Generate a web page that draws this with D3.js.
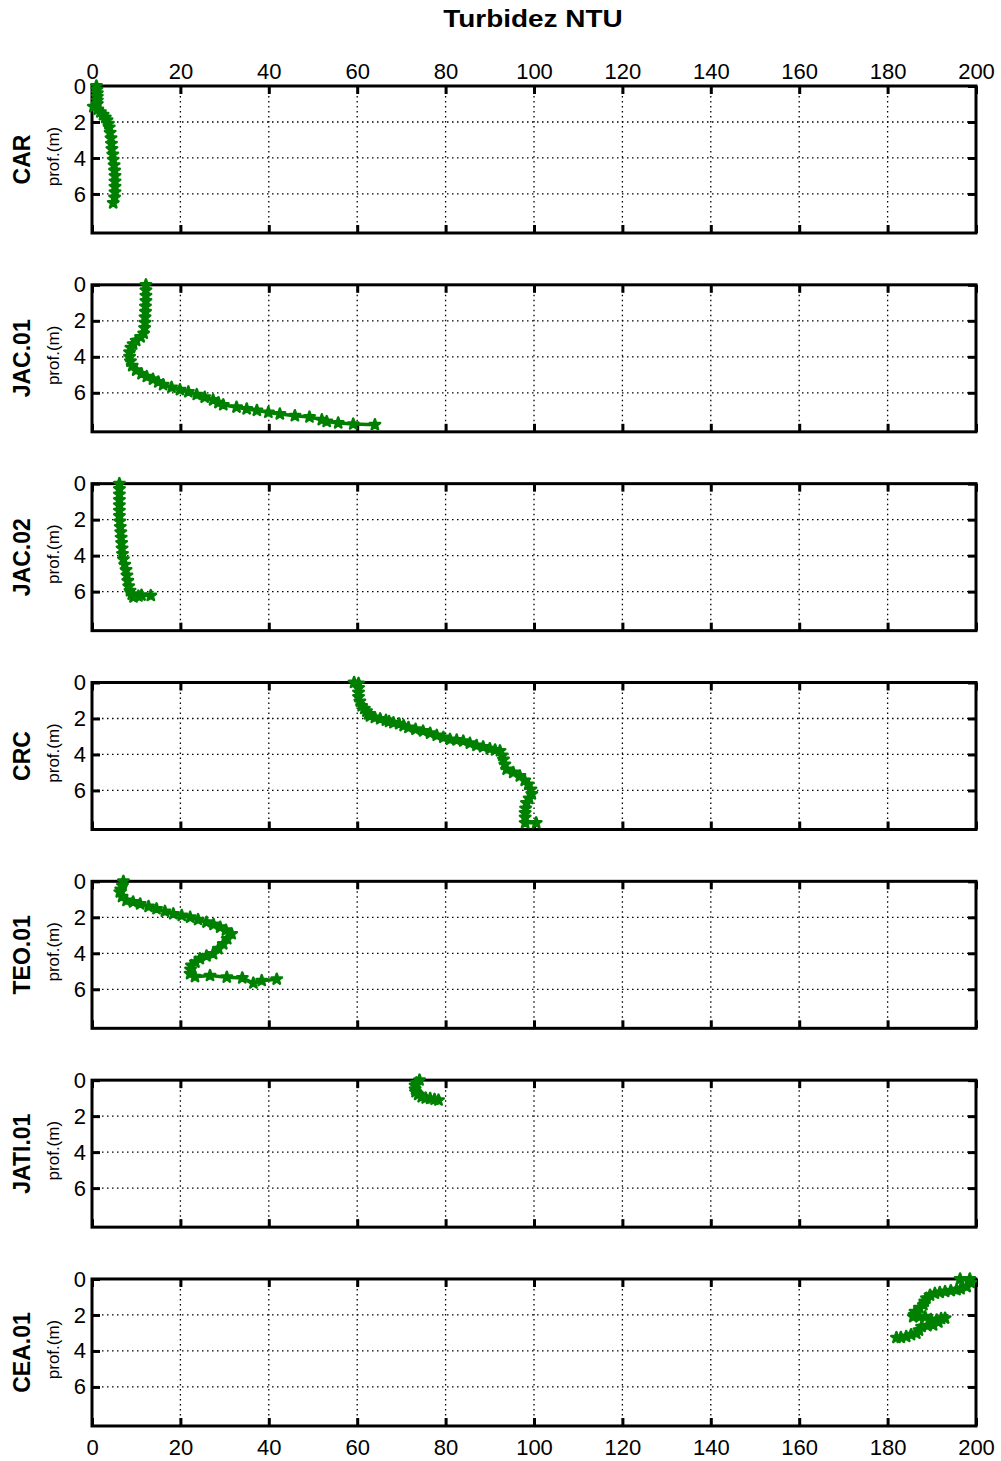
<!DOCTYPE html>
<html>
<head>
<meta charset="utf-8">
<script src="https://cdn.jsdelivr.net/npm/d3@7"></script>
<style>
body{margin:0;background:#fff;}
text{font-family:"Liberation Sans",Arial,Helvetica,sans-serif;}
</style>
</head>
<body>
<svg width="1001" height="1461"></svg>
<script>
// station names, top to bottom
var stations = ["CAR", "JAC.01", "JAC.02", "CRC", "TEO.01", "JATI.01", "CEA.01"];
var xTicks = [0, 20, 40, 60, 80, 100, 120, 140, 160, 180, 200];
var yTicks = [0, 2, 4, 6];

// [profundidade (m), turbidez NTU]
var car = [[0,1.0],[0.2,1.1],[0.4,1.2],[0.6,1.2],[0.8,1.2],[1.0,1.2],[1.15,0.3],[1.3,1.3],[1.45,1.9],
  [1.6,2.5],[1.75,3.0],[1.9,3.4],[2.1,3.7],[2.3,3.9],[2.6,4.1],[2.9,4.3],[3.2,4.4],[3.5,4.5],[3.8,4.7],
  [4.1,4.8],[4.4,5.0],[4.7,5.1],[5.0,5.2],[5.3,5.2],[5.6,5.2],[5.9,5.2],[6.2,5.1],[6.5,4.8]];
var jac01 = [[0,12.2],[0.3,12.2],[0.6,12.2],[0.9,12.2],[1.2,12.1],[1.5,12.1],[1.8,12.0],[2.1,12.0],
  [2.4,11.9],[2.7,11.7],[2.9,11.0],[3.1,10.0],[3.3,9.3],[3.5,8.8],[3.75,8.5],[4.0,8.5],[4.25,8.7],
  [4.5,9.1],[4.75,10.0],[4.95,11.2],[5.1,12.4],[5.25,13.8],[5.4,15.0],[5.55,16.1],[5.7,18.0],
  [5.83,19.9],[5.95,21.8],[6.1,23.7],[6.25,25.5],[6.4,27.4],[6.55,28.6],[6.67,29.7],[6.8,32.7],
  [6.9,35.0],[6.98,37.3],[7.09,39.9],[7.18,42.5],[7.28,45.9],[7.35,49.2],[7.5,52.0],[7.6,53.1],
  [7.68,55.7],[7.74,59.1],[7.78,64.0]];
var jac02 = [[0,6.2],[0.3,6.2],[0.6,6.2],[0.9,6.2],[1.2,6.2],[1.5,6.2],[1.8,6.2],[2.1,6.3],[2.4,6.4],
  [2.7,6.5],[3.0,6.6],[3.3,6.7],[3.6,6.8],[3.9,6.9],[4.2,7.1],[4.5,7.4],[4.8,7.7],[5.1,7.9],[5.4,8.1],
  [5.7,8.3],[5.95,8.6],[6.15,9.0],[6.3,9.4],[6.25,10.5],[6.2,11.2],[6.22,13.3]];
var crc = [[0,59.3],[0.05,60.3],[0.3,60.3],[0.55,60.3],[0.8,60.3],[1.05,60.6],[1.3,61.0],[1.45,61.6],
  [1.6,62.1],[1.75,62.5],[1.87,62.9],[1.95,64.0],[2.02,65.2],[2.1,66.5],[2.17,67.2],[2.24,68.2],
  [2.3,69.5],[2.4,70.5],[2.5,71.6],[2.6,73.2],[2.7,74.9],[2.82,76.5],[2.94,78.0],[3.05,79.5],
  [3.16,81.0],[3.2,82.5],[3.26,84.0],[3.38,85.5],[3.5,87.0],[3.58,88.5],[3.68,90.0],[3.75,91.2],
  [3.8,92.3],[4.05,92.8],[4.28,93.1],[4.55,93.4],[4.83,93.8],[5.0,95.3],[5.2,96.8],[5.45,97.9],
  [5.67,98.7],[5.95,99.3],[6.2,99.5],[6.45,98.9],[6.7,98.3],[7.0,98.1],[7.25,98.0],[7.5,98.0],
  [7.8,98.0],[7.8,100.5]];
var teo01 = [[0,7.1],[0.24,6.9],[0.45,6.5],[0.6,6.3],[0.85,6.8],[1.07,7.8],[1.15,9.3],[1.26,10.9],
  [1.4,12.8],[1.53,14.6],[1.67,16.5],[1.81,18.4],[1.9,20.3],[2.0,22.2],[2.13,24.0],[2.27,25.9],
  [2.4,27.5],[2.55,29.0],[2.72,30.3],[2.92,31.6],[3.2,30.6],[3.48,29.7],[3.75,28.6],[4.03,27.4],
  [4.15,25.9],[4.3,24.4],[4.5,23.4],[4.68,22.5],[4.9,22.3],[5.14,22.2],[5.3,23.3],[5.24,26.7],
  [5.33,30.5],[5.37,34.0],[5.66,36.5],[5.52,38.4],[5.44,41.8]];
var jati01 = [[0,74.1],[0.15,73.4],[0.3,73.1],[0.5,73.1],[0.65,73.2],[0.8,73.8],[0.93,74.6],
  [1.0,75.5],[1.02,76.5],[1.07,77.5],[1.11,78.4]];
var cea01 = [[0,196.4],[0,198.6],[0.2,198.8],[0.43,197.9],[0.55,196.5],[0.6,195.6],[0.65,194.3],
  [0.7,193.0],[0.75,191.8],[0.8,190.7],[0.9,189.6],[1.07,188.8],[1.25,188.4],[1.44,188.1],[1.6,187.2],
  [1.82,186.2],[2.0,186.0],[2.1,185.8],[2.1,187.2],[2.1,188.5],[2.25,189.8],[2.28,191.1],[2.2,192.1],
  [2.18,193.0],[2.4,191.5],[2.56,190.3],[2.6,189.0],[2.65,187.7],[2.85,187.1],[3.02,186.5],
  [3.1,185.3],[3.2,184.2],[3.25,183.0],[3.26,182.0]];
var series = [car, jac01, jac02, crc, teo01, jati01, cea01];

var left = 92, right = 976,
  top0 = 86, step = 198.83, ph = 147,
  green = "#008000";
var svg = d3.select("svg");
var x = d3.scaleLinear().domain([0, 200]).range([left, right]);
var y = d3.scaleLinear().domain([0, 8.17]).range([0, ph]);

// titulo
svg.append("text")
  .attr("transform", "translate(533,27) scale(1.14,1)")
  .attr("text-anchor", "middle")
  .attr("font-size", 24.5)
  .attr("font-weight", "bold")
  .text("Turbidez NTU");

var line = d3.line()
  .x(function (d) { return x(d[1]); })
  .y(function (d) { return y(d[0]); });
var star = d3.symbol().type(d3.symbolStar).size(34);

function styleAxis(a) {
  a.select(".domain").remove();
  a.selectAll(".tick line").attr("stroke", "#000").attr("stroke-width", 3);
  a.selectAll(".tick text").attr("fill", "#000").attr("font-size", 22)
    .attr("font-family", "'Liberation Sans',Arial,sans-serif");
}

stations.forEach(function (name, i) {
  var g = svg.append("g").attr("transform", "translate(0," + (top0 + i * step) + ")");

  // grade pontilhada
  g.append("g").selectAll("line").data(xTicks.slice(1, -1)).enter().append("line")
    .attr("x1", function (d) { return x(d); }).attr("x2", function (d) { return x(d); })
    .attr("y1", 0).attr("y2", ph)
    .attr("stroke", "#000").attr("stroke-width", 1.3).attr("stroke-dasharray", "1.5,3.5");
  g.append("g").selectAll("line").data(yTicks.slice(1)).enter().append("line")
    .attr("x1", left).attr("x2", right)
    .attr("y1", function (d) { return y(d); }).attr("y2", function (d) { return y(d); })
    .attr("stroke", "#000").attr("stroke-width", 1.3).attr("stroke-dasharray", "1.5,3.5");

  // eixos com ticks para dentro
  var aTop = d3.axisTop(x).tickValues(xTicks).tickSize(-8).tickPadding(7);
  if (i > 0) aTop.tickFormat("");
  g.append("g").call(aTop).call(styleAxis);

  var aBot = d3.axisBottom(x).tickValues(xTicks).tickSize(-8).tickPadding(13);
  if (i < stations.length - 1) aBot.tickFormat("");
  g.append("g").attr("transform", "translate(0," + ph + ")").call(aBot).call(styleAxis);

  g.append("g").attr("transform", "translate(" + left + ",0)")
    .call(d3.axisLeft(y).tickValues(yTicks).tickSize(-8).tickPadding(6)).call(styleAxis);
  g.append("g").attr("transform", "translate(" + right + ",0)")
    .call(d3.axisRight(y).tickValues(yTicks).tickSize(-8).tickFormat("")).call(styleAxis);

  // moldura
  g.append("rect")
    .attr("x", left).attr("y", 0).attr("width", right - left).attr("height", ph)
    .attr("fill", "none").attr("stroke", "#000").attr("stroke-width", 3);

  // rotulos
  g.append("text")
    .attr("transform", "translate(30," + (ph / 2) + ") rotate(-90)")
    .attr("text-anchor", "middle").attr("font-size", 23).attr("font-weight", "bold")
    .text(name);
  g.append("text")
    .attr("transform", "translate(59," + (ph / 2 - 3) + ") rotate(-90)")
    .attr("text-anchor", "middle").attr("font-size", 17)
    .text("prof.(m)");

  // dados
  var data = series[i];
  g.append("path").datum(data)
    .attr("d", line)
    .attr("fill", "none").attr("stroke", green).attr("stroke-width", 3.5)
    .attr("stroke-linejoin", "round");
  g.append("g").selectAll("path").data(data).enter().append("path")
    .attr("d", star)
    .attr("transform", function (d) { return "translate(" + x(d[1]) + "," + y(d[0]) + ")"; })
    .attr("fill", green).attr("stroke", green).attr("stroke-width", 2.5)
    .attr("stroke-linejoin", "round");
});
</script>
</body>
</html>
